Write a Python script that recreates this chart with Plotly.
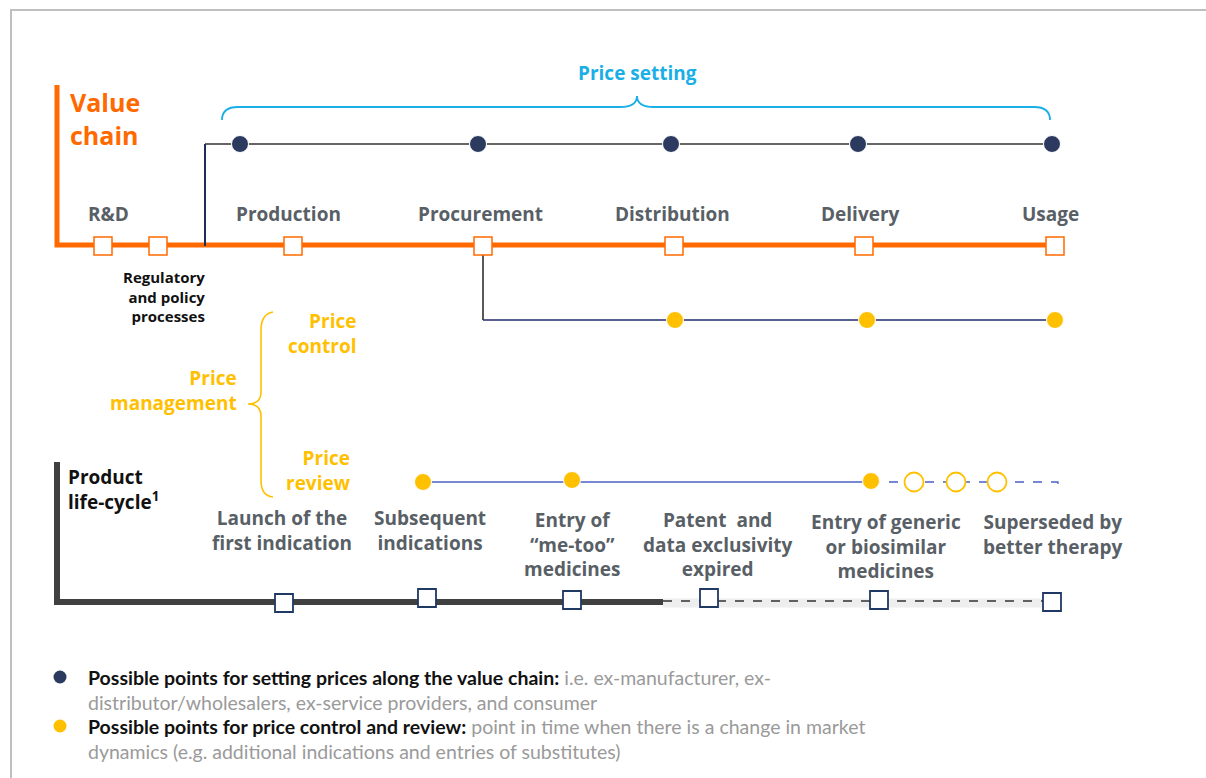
import plotly.graph_objects as go

W, H = 1206, 778

# ---- data ----
vc_stages = ["R&D", "Production", "Procurement", "Distribution", "Delivery", "Usage"]
vc_label_x = [108, 288, 480, 672, 860, 1050]
vc_square_x = [103, 158, 293, 483, 674, 864, 1055]
setting_dot_x = [240, 478, 671, 858, 1052]
control_dot_x = [675, 867, 1055]
review_dot_x = [423, 572, 871]
review_dot_y = [482, 480, 481]
review_open_x = [914, 956, 997]
lc_stages = ["Launch of the<br>first indication", "Subsequent<br>indications",
             "Entry of<br>“me-too”<br>medicines", "Patent  and<br>data exclusivity<br>expired",
             "Entry of generic<br>or biosimilar<br>medicines", "Superseded by<br>better therapy"]
lc_label_x = [282, 430, 572, 718, 886, 1053]
lc_label_y = [518, 518, 520, 520, 522, 522]
lc_square_x = [284, 427, 572, 709, 879, 1052]
lc_square_y = [603, 598, 600, 598, 600, 602]

ORANGE = "#FF6A00"
NAVY = "#2B3A5E"
YELLOW = "#FFC000"
BLUE = "#1AAFE6"
GREYTXT = "#586066"
FONT = "Open Sans"

fig = go.Figure()

def line(xs, ys, color, width, dash="solid"):
    fig.add_trace(go.Scatter(x=xs, y=ys, mode="lines", line=dict(color=color, width=width, dash=dash),
                             hoverinfo="skip", showlegend=False))

# frame
line([11, 11, W], [H, 10, 10], "#BFBFBF", 2)

# value chain
line([57, 57, 1056], [85, 245, 245], ORANGE, 5)
# price setting connector
line([205, 205], [246, 144], "#1F2D5C", 2)
line([205, 1052], [144, 144], "#333333", 1.5)
# price control connector
line([483, 483], [254, 320], "#222222", 1.5)
line([483, 1055], [320, 320], "#1F2D6C", 1.5)
# price review line
line([423, 871], [482, 482], "#4A62C4", 1.3)
line([871, 1058, 1058], [482, 482, 488], "#4A62C4", 1.3, "dash")

# product life cycle
line([663, 1056], [603, 603], "#EEEEEE", 9)
line([663, 1056], [601, 601], "#606060", 2, "dash")
line([57, 57, 663], [462, 602, 602], "#404040", 6)

# markers
fig.add_trace(go.Scatter(x=vc_square_x, y=[246] * len(vc_square_x), mode="markers",
                         marker=dict(symbol="square", size=18, color="white", line=dict(color=ORANGE, width=1.5)),
                         hoverinfo="skip", showlegend=False))
fig.add_trace(go.Scatter(x=setting_dot_x, y=[144] * len(setting_dot_x), mode="markers",
                         marker=dict(size=17, color=NAVY, line=dict(color="white", width=1)),
                         hoverinfo="skip", showlegend=False))
fig.add_trace(go.Scatter(x=control_dot_x, y=[320] * len(control_dot_x), mode="markers",
                         marker=dict(size=17, color=YELLOW, line=dict(color="white", width=1)),
                         hoverinfo="skip", showlegend=False))
fig.add_trace(go.Scatter(x=review_dot_x, y=review_dot_y, mode="markers",
                         marker=dict(size=17, color=YELLOW, line=dict(color="white", width=1)),
                         hoverinfo="skip", showlegend=False))
fig.add_trace(go.Scatter(x=review_open_x, y=[482] * len(review_open_x), mode="markers",
                         marker=dict(size=19, color="white", line=dict(color=YELLOW, width=1.8)),
                         hoverinfo="skip", showlegend=False))
fig.add_trace(go.Scatter(x=lc_square_x, y=lc_square_y, mode="markers",
                         marker=dict(symbol="square", size=18, color="white", line=dict(color="#1F3864", width=1.8)),
                         hoverinfo="skip", showlegend=False))
# legend dots
fig.add_trace(go.Scatter(x=[60], y=[677], mode="markers", marker=dict(size=13, color=NAVY),
                         hoverinfo="skip", showlegend=False))
fig.add_trace(go.Scatter(x=[60], y=[726], mode="markers", marker=dict(size=13, color=YELLOW),
                         hoverinfo="skip", showlegend=False))

# braces
shapes = [
    dict(type="path", xref="x", yref="y",
         path="M 222 120 Q 222 107 238 107 L 620 107 Q 637 107 637 96 Q 637 107 654 107 L 1034 107 Q 1050 107 1050 120",
         line=dict(color=BLUE, width=1.8)),
    dict(type="path", xref="x", yref="y",
         path="M 273 312 Q 261 314 261 330 L 261 392 Q 261 404 248 404 Q 261 404 261 416 L 261 480 Q 261 496 273 497",
         line=dict(color=YELLOW, width=1.6)),
]

ann = []

def text(x, y, s, size, color, anchor="center"):
    ann.append(dict(x=x, y=y, xref="x", yref="y", text=f"<b>{s}</b>", showarrow=False,
                    xanchor=anchor, yanchor="middle", align=anchor if anchor != "center" else "center",
                    font=dict(family=FONT, size=size, color=color)))

text(68, 118, "Value<br>chain", 25, ORANGE, anchor="left")
text(637, 73, "Price setting", 19, BLUE)
for s, x in zip(vc_stages, vc_label_x):
    text(x, 214, s, 19, GREYTXT)
text(207, 296, "Regulatory<br>and policy<br>processes", 15, "#111111", anchor="right")
text(358, 333, "Price<br>control", 19, YELLOW, anchor="right")
text(239, 390, "Price<br>management", 19, YELLOW, anchor="right")
text(353, 470, "Price<br>review", 19, YELLOW, anchor="right")
text(66, 489, "Product<br>life-cycle<sup>1</sup>", 19, "#111111", anchor="left")
for s, x, y in zip(lc_stages, lc_label_x, lc_label_y):
    ann.append(dict(x=x, y=y - 15, xref="x", yref="y", text=f"<b>{s}</b>", showarrow=False,
                    xanchor="center", yanchor="top", align="center",
                    font=dict(family=FONT, size=19, color=GREYTXT)))

LEG = "Lato"
ann.append(dict(x=86, y=664, xref="x", yref="y", xanchor="left", yanchor="top", align="left", showarrow=False,
                text="<b>Possible points for setting prices along the value chain:</b> "
                     "<span style='color:#9A9A9A'>i.e. ex-manufacturer, ex-<br>"
                     "distributor/wholesalers, ex-service providers, and consumer</span>",
                font=dict(family=LEG, size=19.5, color="#111111")))
ann.append(dict(x=86, y=713, xref="x", yref="y", xanchor="left", yanchor="top", align="left", showarrow=False,
                text="<b>Possible points for price control and review:</b> "
                     "<span style='color:#9A9A9A'>point in time when there is a change in market<br>"
                     "dynamics (e.g. additional indications and entries of substitutes)</span>",
                font=dict(family=LEG, size=19.5, color="#111111")))

fig.update_layout(
    width=W, height=H, margin=dict(l=0, r=0, t=0, b=0),
    paper_bgcolor="white", plot_bgcolor="white",
    xaxis=dict(range=[0, W], visible=False, fixedrange=True),
    yaxis=dict(range=[H, 0], visible=False, fixedrange=True),
    shapes=shapes, annotations=ann, showlegend=False,
)

fig.write_html("out.html", config={"displayModeBar": False},
               post_script="document.body.style.margin='0';document.body.style.overflow='hidden';")
